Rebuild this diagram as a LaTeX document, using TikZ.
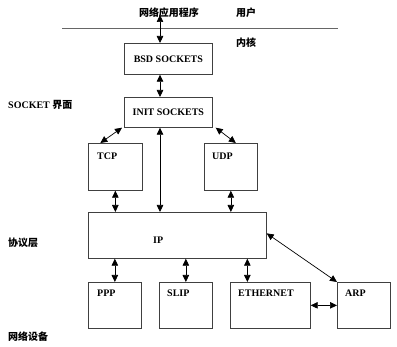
\documentclass[tikz,border=0pt]{standalone}
\usepackage{fontspec}
\setmainfont{Liberation Serif}
\newfontfamily\cjk{Noto Sans CJK SC}
\usetikzlibrary{arrows.meta}
\tikzset{
  box/.style={draw=black!75, line width=0.7pt, anchor=north west, inner sep=0pt},
  lbl/.style={font=\bfseries\fontsize{10}{12}\selectfont, inner sep=0pt},
  zh/.style={font=\cjk\bfseries\fontsize{10}{12}\selectfont, inner sep=0pt},
  dbl/.style={line width=0.7pt, {Triangle[length=7pt,width=6.5pt]}-{Triangle[length=7pt,width=6.5pt]}},
}
\begin{document}
\begin{tikzpicture}[x=1pt, y=-1pt]
            \useasboundingbox (0,0) rectangle (397,347);
            % user / kernel boundary
            \draw[black!60, line width=0.7pt] (62,28) -- (338,28);
            \node[zh] (app) at (169,13) {网络应用程序};
            \node[zh] (user) at (246,13) {用户};
            \node[zh] (kernel) at (246,43) {内核};
            \coordinate (top) at (160,15);
            % socket layer
            \node[box, minimum width=88pt, minimum height=31pt, lbl] (bsd) at (124,43) {BSD SOCKETS};
            \node[box, minimum width=88pt, minimum height=30pt, lbl] (init) at (124,97) {INIT SOCKETS};
            % transport layer
            \node[box, minimum width=54pt, minimum height=47pt] (tcp) at (88,143) {};
            \node[lbl, anchor=west] at (97,156) {TCP};
            \node[box, minimum width=53pt, minimum height=47pt] (udp) at (204,143) {};
            \node[lbl, anchor=west] at (212,156) {UDP};
            % network layer
            \node[box, minimum width=178pt, minimum height=46pt] (ip) at (88,212) {};
            \node[lbl, anchor=west] at (153,240) {IP};
            % devices
            \node[box, minimum width=53pt, minimum height=46pt] (ppp) at (88,282) {};
            \node[lbl, anchor=west] at (97,293) {PPP};
            \node[box, minimum width=53pt, minimum height=46pt] (slip) at (159,282) {};
            \node[lbl, anchor=west] at (167,293) {SLIP};
            \node[box, minimum width=80pt, minimum height=46pt] (ether) at (230,282) {};
            \node[lbl, anchor=west] at (238,293) {ETHERNET};
            \node[box, minimum width=53pt, minimum height=46pt] (arp) at (337,282) {};
            \node[lbl, anchor=west] at (345,293) {ARP};
            % layer names
            \node[anchor=west, inner sep=0pt] (sock) at (8,105) {\bfseries\fontsize{10}{12}\selectfont SOCKET {\cjk\bfseries 界面}};
            \node[zh, anchor=west] (proto) at (8,243) {协议层};
            \node[zh, anchor=west] (dev) at (8,337) {网络设备};
            % connectors
            \draw[dbl] (top) -- (bsd.north -| top);
            \draw[dbl] (bsd.south -| top) -- (init.north -| top);
            \draw[dbl] ([xshift=-2pt]init.south west) -- ([xshift=-15pt]tcp.north);
            \draw[dbl] ([xshift=3pt]init.south east) -- ([xshift=5pt]udp.north);
            \draw[dbl] (init.south -| top) -- (ip.north -| top);
            \draw[dbl] (tcp.south) -- (tcp.south |- ip.north);
            \draw[dbl] (udp.south) -- (udp.south |- ip.north);
            \draw[dbl] (ip.south -| ppp.north) -- (ppp.north);
            \draw[dbl] (ip.south -| slip.north) -- (slip.north);
            \draw[dbl] ([xshift=-23pt]ether.north |- ip.south) -- ([xshift=-23pt]ether.north);
            \draw[dbl] ([yshift=2pt]ip.east) -- (arp.north west);
            \draw[dbl] (ether.east) -- (arp.west);
\end{tikzpicture}
\end{document}
